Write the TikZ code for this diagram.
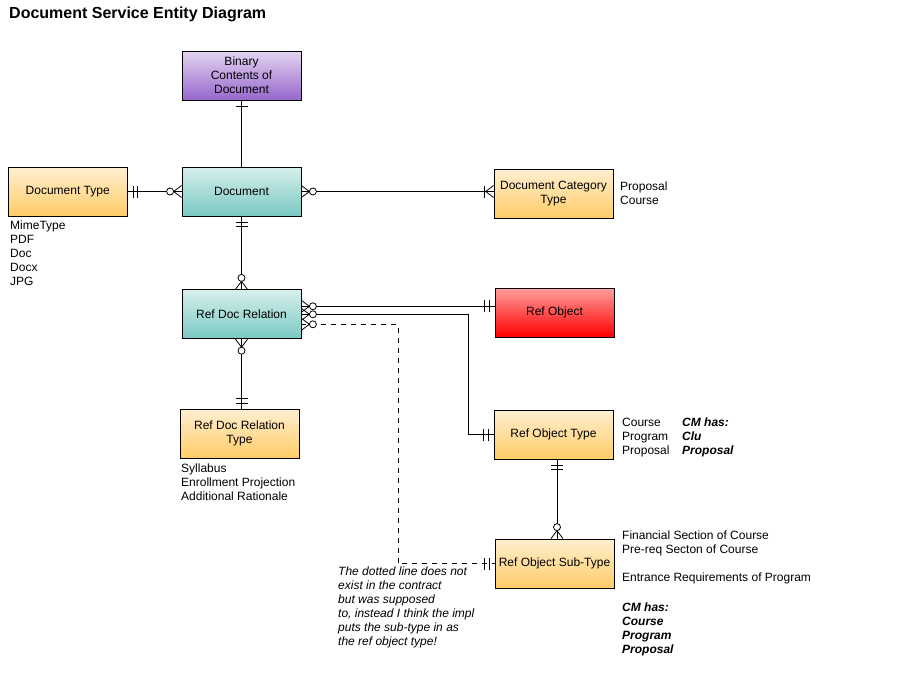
\documentclass[tikz,border=0pt]{standalone}
\usepackage{fontspec}
\setmainfont{Liberation Sans}
\usetikzlibrary{positioning, decorations.markings}
\definecolor{tealtop}{RGB}{214,239,236}
\definecolor{tealbot}{RGB}{122,201,195}
\definecolor{orangetop}{RGB}{255,239,208}
\definecolor{orangebot}{RGB}{255,204,104}
\definecolor{purpletop}{RGB}{226,212,240}
\definecolor{purplebot}{RGB}{150,102,204}
\definecolor{redtop}{RGB}{255,158,158}
\definecolor{redbot}{RGB}{255,0,0}
% crow's foot ends, drawn with x pointing away from the entity
\newcommand\zeromany{\draw[solid] (0,6pt) -- (8pt,0) -- (0,-6pt); \draw[solid, fill=white] (11.5pt,0) circle (3.5pt);}
\newcommand\onemany{\draw[solid] (0,6pt) -- (8pt,0) -- (0,-6pt); \draw[solid] (9pt,-6pt) -- (9pt,6pt);}
\newcommand\onlyone{\draw[solid] (5.5pt,-6pt) -- (5.5pt,6pt) (10pt,-6pt) -- (10pt,6pt);}
\newcommand\onebar{\draw[solid] (6pt,-6pt) -- (6pt,6pt);}
\tikzset{
    x=1pt, y=-1pt, % pixel coordinates, y downwards
    every node/.style={font=\fontsize{12}{14}\selectfont},
    entity/.style={draw, line width=0.8pt, minimum width=119pt, minimum height=49pt, align=center, inner sep=2pt},
    tealbox/.style={entity, top color=tealtop, bottom color=tealbot},
    orangebox/.style={entity, top color=orangetop, bottom color=orangebot},
    purplebox/.style={entity, top color=purpletop, bottom color=purplebot},
    redbox/.style={entity, top color=redtop, bottom color=redbot},
    link/.style={line width=0.8pt},
    note/.style={anchor=north west, align=left, inner sep=0pt},
    % markings at the start (position 0) and at the end (position 1)
    start zm/.style={postaction={decorate, decoration={markings, mark=at position 0 with {\zeromany}}}},
    end zm/.style={postaction={decorate, decoration={markings, mark=at position 1 with {\begin{scope}[xscale=-1]\zeromany\end{scope}}}}},
    end om/.style={postaction={decorate, decoration={markings, mark=at position 1 with {\begin{scope}[xscale=-1]\onemany\end{scope}}}}},
    start oo/.style={postaction={decorate, decoration={markings, mark=at position 0 with {\onlyone}}}},
    end oo/.style={postaction={decorate, decoration={markings, mark=at position 1 with {\begin{scope}[xscale=-1]\onlyone\end{scope}}}}},
    start one/.style={postaction={decorate, decoration={markings, mark=at position 0 with {\onebar}}}},
}
\begin{document}
\begin{tikzpicture}
\useasboundingbox (0,0) rectangle (924,691);
\node[anchor=west, inner sep=0pt, font=\bfseries\fontsize{16}{19}\selectfont] (title) at (9,14) {Document Service Entity Diagram};

\node[tealbox]                     (doc)     at (241.5,191.5) {Document};
\node[purplebox, above=66pt of doc] (binary)  {Binary\\Contents of\\Document};
\node[orangebox, left=54pt of doc]  (doctype) {Document Type};
\node[orangebox]                   (cat)     at (553.5,193.5) {Document Category\\Type};
\node[tealbox, below=73pt of doc]   (rdr)     {Ref Doc Relation};
\node[orangebox]                   (rdrt)    at (239.5,433.5) {Ref Doc Relation\\Type};
\node[redbox]                      (refobj)  at (554.5,312.5) {Ref Object};
\node[orangebox]                   (rot)     at (553.5,434.5) {Ref Object Type};
\node[orangebox]                   (rost)    at (554.5,563.5) {Ref Object Sub-Type};

\coordinate (bendA) at (468,0);
\coordinate (bendB) at (398,0);

\draw[link, start one] (binary.south) -- (binary.south |- doc.north);
\draw[link, start zm, end oo] (doc.west) -- (doctype.east);
\draw[link, start zm, end om] (doc.east) -- (doc.east -| cat.west);
\draw[link, start oo, end zm] (doc.south) -- (rdr.north);
\draw[link, start zm, end oo] (rdr.south) -- (rdr.south |- rdrt.north);
\draw[link, start zm, end oo] ([yshift=8pt]rdr.east) -- ([yshift=8pt]rdr.east -| refobj.west);
\draw[link, start zm, end oo] (rdr.east) -| (bendA |- rot.west) -- (rot.west);
\draw[link, dash pattern=on 5pt off 5pt, start zm, end oo] ([yshift=-10pt]rdr.east) -| (bendB |- rost.west) -- (rost.west);
\draw[link, start oo, end zm] ([xshift=3.5pt]rot.south) -- ([xshift=3.5pt]rot.south |- rost.north);

% value lists
\node[note] (catvals)  at (620,181.5) {Proposal\\Course};
\node[note] (typevals) at (10,220.5) {MimeType\\PDF\\Doc\\Docx\\JPG};
\node[note] (rdrtvals) at (181,463.5) {Syllabus\\Enrollment Projection\\Additional Rationale};
\node[note] (rotvals)  at (622,417.5) {Course\\Program\\Proposal};
\node[note, font=\bfseries\itshape\fontsize{12}{14}\selectfont] (rotcm) at (682,417.5) {CM has:\\Clu\\Proposal};
\node[note] (rostvals) at (622,530.5) {Financial Section of Course\\Pre-req Secton of Course\\[14pt]Entrance Requirements of Program};
\node[note, font=\bfseries\itshape\fontsize{12}{14}\selectfont] (rostcm) at (622,602.5) {CM has:\\Course\\Program\\Proposal};
\node[note, font=\itshape\fontsize{12}{14}\selectfont] (dotnote) at (338,566.5) {The dotted line does not\\exist in the contract\\but was supposed\\to, instead I think the impl\\puts the sub-type in as\\the ref object type!};
\end{tikzpicture}
\end{document}
